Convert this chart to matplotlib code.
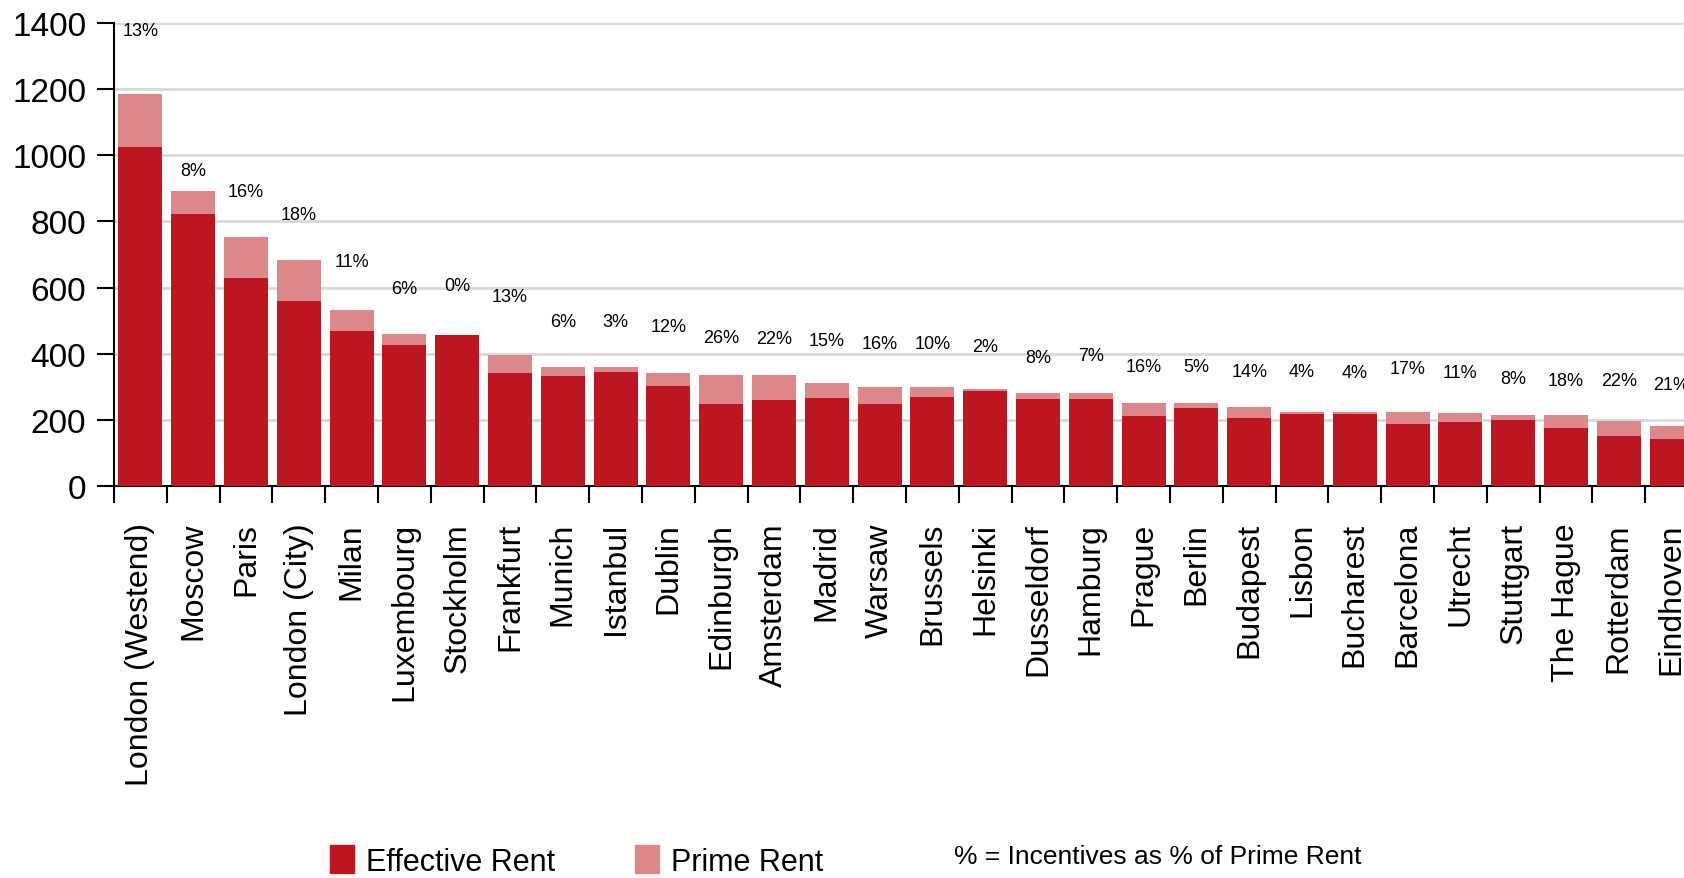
import numpy as np
import matplotlib
matplotlib.use("Agg")
import matplotlib.pyplot as plt
from matplotlib.patches import Patch

plt.rcParams['font.family'] = ['Liberation Sans Narrow', 'Liberation Sans', 'DejaVu Sans']

cities = ['London (Westend)', 'Moscow', 'Paris', 'London (City)', 'Milan',
          'Luxembourg', 'Stockholm', 'Frankfurt', 'Munich', 'Istanbul',
          'Dublin', 'Edinburgh', 'Amsterdam', 'Madrid', 'Warsaw',
          'Brussels', 'Helsinki', 'Dusseldorf', 'Hamburg', 'Prague',
          'Berlin', 'Budapest', 'Lisbon', 'Bucharest', 'Barcelona',
          'Utrecht', 'Stuttgart', 'The Hague', 'Rotterdam', 'Eindhoven']
effective_rent = [1025, 822, 629, 559, 469, 426, 457, 342, 333, 345,
                  302, 248, 260, 266, 248, 269, 287, 263, 263, 212,
                  236, 206, 218, 218, 187, 194, 200, 175, 151, 142]
prime_rent = [1185, 892, 753, 683, 532, 460, 457, 396, 360, 360,
              342, 336, 336, 311, 299, 299, 293, 281, 281, 251,
              251, 239, 224, 224, 224, 221, 215, 215, 197, 181]
incentive_pct = [13, 8, 16, 18, 11, 6, 0, 13, 6, 3,
                 12, 26, 22, 15, 16, 10, 2, 8, 7, 16,
                 5, 14, 4, 4, 17, 11, 8, 18, 22, 21]
# hidden label series (height at which the % labels sit)
label_height = [1376, 953, 889, 822, 680, 596, 605, 572, 496, 496,
                481, 450, 445, 439, 432, 432, 421, 390, 396, 360,
                360, 347, 347, 342, 354, 342, 324, 318, 318, 308]

dark_red = '#BE1620'
pink = '#DC888B'

W, H = 1684, 879
fig = plt.figure(figsize=(W / 100, H / 100), dpi=100)
# plot runs past the right edge like the original
ax = fig.add_axes((114 / W, 1 - 487 / H, 30 * 52.8 / W, (487 - 24) / H))

x = np.arange(len(cities))
eff = np.array(effective_rent)
prime = np.array(prime_rent)
ax.bar(x, eff, width=0.83, color=dark_red, zorder=3)
ax.bar(x, prime - eff, bottom=eff, width=0.83, color=pink, zorder=3)

for i, (p, h) in enumerate(zip(incentive_pct, label_height)):
    ax.text(x[i], h, "%d%%" % p, ha='center', va='center', fontsize=13)

ax.set_xlim(-0.5, len(cities) - 0.5)
ax.set_ylim(0, 1400)
ax.set_yticks(np.arange(0, 1401, 200))
ax.tick_params(axis='y', labelsize=24, length=12, width=1.5, pad=8)
ax.grid(axis='y', color='#D6D9D9', linewidth=2, zorder=0)

# category labels between tick marks
ax.set_xticks(x)
ax.set_xticklabels(cities, rotation=90, fontsize=23)
ax.tick_params(axis='x', length=0, pad=26)
ax.set_xticks(np.arange(-0.5, len(cities)), minor=True)
ax.tick_params(axis='x', which='minor', length=12, width=1.5)

for s in ('top', 'right'):
    ax.spines[s].set_visible(False)
for s in ('left', 'bottom'):
    ax.spines[s].set_linewidth(1.5)

handles = [Patch(color=dark_red, label='Effective Rent'),
           Patch(color=pink, label='Prime Rent')]
fig.legend(handles=handles, loc='center left', bbox_to_anchor=(302 / W, 1 - 862 / H),
           ncol=2, frameon=False, fontsize=22, handlelength=0.8, handleheight=1.0,
           handletextpad=0.4, columnspacing=2.6)
fig.text(954 / W, 1 - 857 / H, '% = Incentives as % of Prime Rent',
         fontsize=19, va='center', ha='left')

fig.savefig('out.png', dpi=100)
